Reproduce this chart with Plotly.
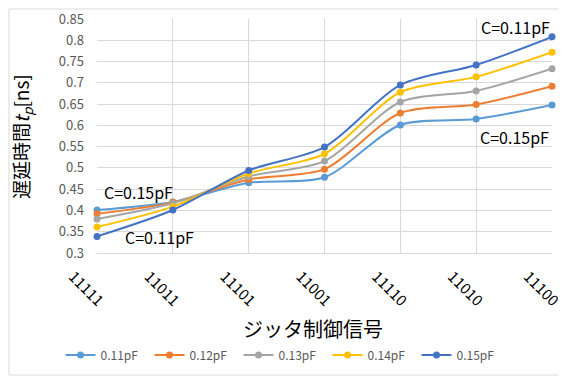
import plotly.graph_objects as go

categories = ["11111", "11011", "11101", "11001", "11110", "11010", "11100"]
series_names = ["0.11pF", "0.12pF", "0.13pF", "0.14pF", "0.15pF"]
v011 = [0.401, 0.420, 0.465, 0.478, 0.601, 0.615, 0.648]
v012 = [0.392, 0.419, 0.473, 0.497, 0.629, 0.649, 0.692]
v013 = [0.380, 0.417, 0.480, 0.516, 0.655, 0.681, 0.733]
v014 = [0.361, 0.409, 0.487, 0.533, 0.678, 0.714, 0.772]
v015 = [0.339, 0.401, 0.494, 0.549, 0.695, 0.742, 0.808]
colors = ["#5B9BD5", "#ED7D31", "#A5A5A5", "#FFC000", "#4472C4"]
all_values = [v011, v012, v013, v014, v015]

ann_texts = ["C=0.11pF", "C=0.15pF", "C=0.15pF", "C=0.11pF"]
ann_x = [5.52, 5.51, 0.55, 0.83]
ann_y = [0.831, 0.573, 0.443, 0.338]

x_title = "ジッタ制御信号"
y_title = "遅延時間<i>t<sub>p</sub></i>[ns]"

font_jp = "Noto Sans CJK JP"

# page has an 8px body offset; figure sized to fit the window
OFF = 8
W, H = 566 - OFF, 378 - OFF
PL, PR, PT, PB = 97, 552, 19, 253  # plot area in page pixels
pw, ph = PR - PL, PB - PT


def px(xp):
    return (xp - PL) / pw


def py(yp):
    return (PB - yp) / ph


fig = go.Figure()
for name, vals, col in zip(series_names, all_values, colors):
    fig.add_trace(go.Scatter(
        x=list(range(len(categories))), y=vals, name=name,
        mode="lines+markers",
        line=dict(color=col, width=2, shape="spline", smoothing=0.8),
        marker=dict(color=col, size=7),
        cliponaxis=False,
    ))

for t, x, y in zip(ann_texts, ann_x, ann_y):
    fig.add_annotation(x=x, y=y, xref="x", yref="y", text=t, showarrow=False,
                       font=dict(family=font_jp, size=16, color="#000000"))

fig.add_annotation(x=px(313), y=py(328), xref="paper", yref="paper",
                   text=x_title, showarrow=False, xanchor="center", yanchor="middle",
                   font=dict(family=font_jp, size=20, color="#000000"))
fig.add_annotation(x=px(22), y=py(137), xref="paper", yref="paper",
                   text=y_title, showarrow=False, xanchor="center", yanchor="middle", textangle=-90,
                   font=dict(family=font_jp, size=19, color="#000000"))

fig.update_layout(
    width=W, height=H,
    margin=dict(l=PL - OFF, r=566 - PR, t=PT - OFF, b=378 - PB, autoexpand=False),
    paper_bgcolor="white", plot_bgcolor="white",
    showlegend=True,
    legend=dict(orientation="h", x=px(283), xanchor="center",
                y=py(355), yanchor="middle",
                font=dict(family=font_jp, size=12, color="#595959"),
                itemwidth=30, tracegroupgap=0, entrywidth=44),
    xaxis=dict(
        tickmode="array", tickvals=list(range(len(categories))), ticktext=categories,
        range=[0, 6], tickangle=45, automargin=False,
        showgrid=True, gridcolor="#D9D9D9", gridwidth=1,
        showline=True, linecolor="#D9D9D9", zeroline=False,
        tickfont=dict(family=font_jp, size=15, color="#000000"),
        ticklabeloverflow="allow", ticklabelshift=-24, ticklabelstandoff=8,
    ),
    yaxis=dict(
        range=[0.3, 0.85], dtick=0.05, tickformat="~g", automargin=False,
        showgrid=True, gridcolor="#D9D9D9", gridwidth=1, zeroline=False,
        tickfont=dict(family=font_jp, size=13, color="#595959"),
        ticklabelstandoff=12,
    ),
)
fig.add_shape(type="rect", xref="paper", yref="paper",
              x0=px(OFF + 1), x1=px(563), y0=py(375), y1=py(OFF + 1),
              line=dict(color="#D9D9D9", width=1))
fig.write_html("out.html")
